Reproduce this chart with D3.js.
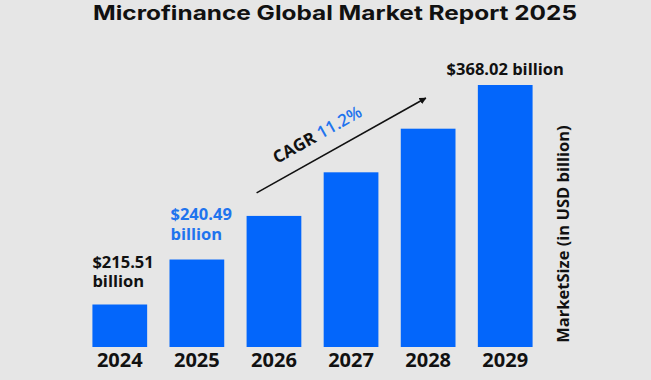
<!DOCTYPE html>
<html>
<head>
<meta charset="utf-8">
<script src="https://cdn.jsdelivr.net/npm/d3@7"></script>
<style>
  html, body { margin: 0; padding: 0; background: #e6e6e6; }
  svg { display: block; }
</style>
</head>
<body>
<script>
const years = ["2024", "2025", "2026", "2027", "2028", "2029"];
const values = [215.51, 240.49, 267.46, 297.46, 330.83, 368.02];
const title = "Microfinance Global Market Report 2025";
const yLabel = "MarketSize (in USD billion)";
const cagrLabel = "CAGR";
const cagrValue = "11.2%";

const W = 651, H = 380;
const svg = d3.select("body").append("svg").attr("width", W).attr("height", H);
svg.append("rect").attr("width", W).attr("height", H).attr("fill", "#e6e6e6");

const blue = "#0366fb";
const textBlue = "#1f74ee";

const x = d3.scaleBand().domain(years).range([77, 548]).paddingInner(0.29).paddingOuter(0.2);
const y = d3.scaleLog().domain([194.3, 368.02]).range([347, 85]);

// title
svg.append("text")
  .attr("x", 93).attr("y", 20)
  .attr("font-family", "Inter, 'Open Sans', sans-serif")
  .attr("font-weight", 700)
  .attr("font-size", 20)
  .attr("textLength", 484)
  .attr("lengthAdjust", "spacingAndGlyphs")
  .attr("fill", "#111")
  .text(title);

// bars
svg.selectAll("rect.bar").data(values).join("rect")
  .attr("class", "bar")
  .attr("x", (d, i) => x(years[i]))
  .attr("width", x.bandwidth())
  .attr("y", d => y(d))
  .attr("height", d => y.range()[0] - y(d))
  .attr("fill", blue);

// x axis labels
const xAxis = d3.axisBottom(x).tickSize(0).tickPadding(0);
const gx = svg.append("g").attr("transform", "translate(0,353)").call(xAxis);
gx.select(".domain").remove();
gx.selectAll("text")
  .attr("font-family", "'Open Sans', sans-serif")
  .attr("font-weight", 700)
  .attr("font-size", 20)
  .attr("fill", "#111")
  .attr("dy", "0.71em");

const lblFont = "'Open Sans', sans-serif";
function twoLine(i, color, dx, off1, off2) {
  svg.append("text")
    .attr("x", x(years[i]) + dx).attr("y", y(values[i]) - off1)
    .attr("font-family", lblFont).attr("font-weight", 700).attr("font-size", 16.5).attr("fill", color)
    .text("$" + values[i].toFixed(2));
  svg.append("text")
    .attr("x", x(years[i]) + dx).attr("y", y(values[i]) - off2)
    .attr("font-family", lblFont).attr("font-weight", 700).attr("font-size", 16.5).attr("fill", color)
    .text("billion");
}
twoLine(0, "#111", 0, 37, 18);
twoLine(1, textBlue, 1, 40, 20);

// 2029 label
svg.append("text")
  .attr("x", x(years[5]) + x.bandwidth() / 2)
  .attr("y", y(values[5]) - 10)
  .attr("text-anchor", "middle")
  .attr("font-family", lblFont).attr("font-weight", 700).attr("font-size", 16.5).attr("fill", "#111")
  .text("$" + values[5].toFixed(2) + " billion");

// y label
svg.append("text")
  .attr("transform", `translate(569,${234}) rotate(-90)`)
  .attr("text-anchor", "middle")
  .attr("font-family", lblFont).attr("font-weight", 700).attr("font-size", 16.5).attr("fill", "#111")
  .text(yLabel);

// CAGR arrow
const defs = svg.append("defs");
defs.append("marker").attr("id", "ah")
  .attr("viewBox", "0 0 10 10").attr("refX", 9).attr("refY", 5)
  .attr("markerWidth", 7).attr("markerHeight", 7).attr("markerUnits", "userSpaceOnUse")
  .attr("orient", "auto")
  .append("path").attr("d", "M0,0 L10,5 L0,10 Z").attr("fill", "#111");

const ax0 = x(years[2]) + 10, ay0 = y(values[2]) - 23;
const ax1 = x(years[5]) - 52, ay1 = y(values[5]) + 13;
svg.append("line")
  .attr("x1", ax0).attr("y1", ay0).attr("x2", ax1).attr("y2", ay1)
  .attr("stroke", "#111").attr("stroke-width", 1.6)
  .attr("marker-end", "url(#ah)");

const ang = Math.atan2(ay1 - ay0, ax1 - ax0) * 180 / Math.PI;
const ct = svg.append("text")
  .attr("transform", `translate(277,164) rotate(${ang})`)
  .attr("font-family", lblFont).attr("font-size", 17);
ct.append("tspan").attr("font-weight", 700).attr("fill", "#111").text(cagrLabel + " ");
ct.append("tspan").attr("font-weight", 600).attr("fill", textBlue).text(cagrValue);
</script>
</body>
</html>
